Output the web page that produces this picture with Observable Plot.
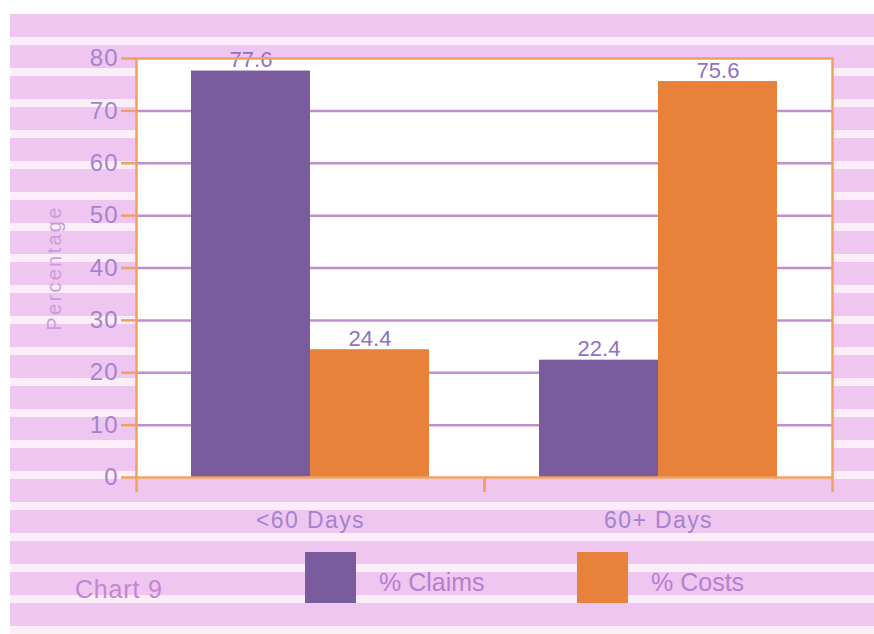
<!DOCTYPE html>
<html>
<head>
<meta charset="utf-8">
<script src="https://cdn.jsdelivr.net/npm/d3@7"></script>
<script src="https://cdn.jsdelivr.net/npm/@observablehq/plot@0.6"></script>
<style>
  html, body { margin: 0; padding: 0; background: #ffffff; }
  #page { position: relative; width: 874px; height: 634px; overflow: hidden; font-family: "Liberation Sans", Arial, sans-serif; }
  #paper { position: absolute; left: 10px; top: 14px; right: 0; bottom: 0;
    background: repeating-linear-gradient(to bottom, #efc6f0 0px, #efc6f0 23px, #fbeef8 23px, #fbeef8 31px); }
  #chart { position: absolute; left: 0; top: 0; }
  #legend { position: absolute; left: 0; top: 535px; width: 874px; height: 99px; }
  .caption { position: absolute; left: 75px; top: 40px; font-size: 25px; letter-spacing: 0.8px; color: #c386cf; }
  .swatch { position: absolute; top: 17px; width: 51px; height: 51px; }
  .lab { position: absolute; top: 33px; font-size: 25px; color: #b57fd0; }
</style>
</head>
<body>
<div id="page">
  <div id="paper"></div>
  <div id="chart"></div>
  <div id="legend"></div>
</div>
<script>
// Claim duration groups and the two measured shares (%)
const categories = ["<60 Days", "60+ Days"];
const series = ["% Claims", "% Costs"];
const claims = [77.6, 22.4];
const costs = [24.4, 75.6];
const yTicks = [0, 10, 20, 30, 40, 50, 60, 70, 80];

const colors = { "% Claims": "#7a5b9e", "% Costs": "#e8823a" };
const frameColor = "#f2a060";
const textColor = "#a384cf";

const rows = categories.flatMap((c, i) => [
  { group: c, series: series[0], value: claims[i] },
  { group: c, series: series[1], value: costs[i] }
]);

const W = 874, mL = 136, mR = 42;
const halfBand = (W - mL - mR) / categories.length / 2;

const chart = Plot.plot({
  width: W,
  height: 535,
  marginLeft: mL,
  marginRight: mR,
  marginTop: 58,
  marginBottom: 58,
  style: { background: "transparent", fontFamily: "Liberation Sans, Arial, sans-serif" },
  fx: { domain: categories, padding: 0, axis: null },
  x: { domain: series, paddingInner: 0, paddingOuter: 0.462, axis: null },
  y: { domain: [0, 80], axis: null },
  marks: [
    Plot.frame({ fill: "white", stroke: null, facet: "super" }),
    Plot.gridY(yTicks.filter(d => d > 0 && d < 80), { stroke: "#b47cc4", strokeOpacity: 0.85, strokeWidth: 2.5 }),
    Plot.barY(rows, { fx: "group", x: "series", y: "value", fill: d => colors[d.series] }),
    Plot.text(rows, { fx: "group", x: "series", y: "value", text: d => d.value.toFixed(1), dy: -11, fill: "#9070c4", fontSize: 22 }),
    Plot.frame({ stroke: frameColor, strokeWidth: 2.5, facet: "super" }),
    Plot.axisY({ ticks: yTicks, tickSize: 15, tickPadding: 3, stroke: frameColor, strokeWidth: 2.5, fill: textColor, fontSize: 24,
      label: "Percentage", labelAnchor: "center", labelArrow: "none", labelOffset: 90 }),
    // category boundary ticks below the baseline
    Plot.axisFx({ anchor: "bottom", tickSize: 15, tickFormat: () => "", stroke: frameColor, strokeWidth: 2.5, dx: -halfBand, label: null }),
    Plot.axisFx({ anchor: "bottom", tickSize: 15, tickFormat: () => "", stroke: frameColor, strokeWidth: 2.5, dx: halfBand, label: null }),
    Plot.axisFx({ anchor: "bottom", tickSize: 0, tickPadding: 34, fill: textColor, fontSize: 23, label: null })
  ]
});
document.getElementById("chart").appendChild(chart);

// slightly wider letter spacing on the category labels and the axis title
const svg = d3.select(chart);
svg.selectAll("text").filter(function () { return categories.includes(this.textContent); })
  .style("letter-spacing", "1.4px");
svg.selectAll("text").filter(function () { return this.textContent === "Percentage"; })
  .attr("fill", "#c99ddb").style("font-size", "20px").style("letter-spacing", "2.3px");
svg.selectAll("text").filter(function () { return yTicks.map(String).includes(this.textContent); })
  .style("letter-spacing", "1px");

// legend below the chart
const legend = d3.select("#legend");
legend.append("div").attr("class", "caption").text("Chart 9");
const items = [
  { name: series[0], sx: 305, tx: 379 },
  { name: series[1], sx: 577, tx: 651 }
];
for (const it of items) {
  legend.append("div").attr("class", "swatch").style("left", it.sx + "px").style("background", colors[it.name]);
  legend.append("div").attr("class", "lab").style("left", it.tx + "px").text(it.name);
}
</script>
</body>
</html>
